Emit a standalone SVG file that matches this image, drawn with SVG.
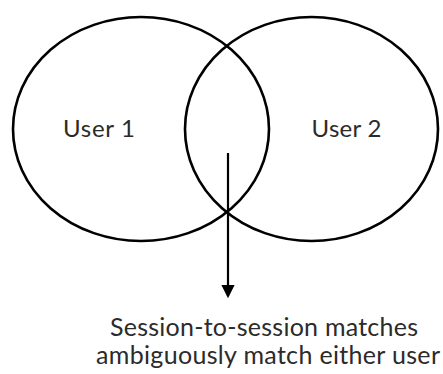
<svg xmlns="http://www.w3.org/2000/svg" width="443" height="374" viewBox="0 0 443 374">
<defs>
<style>
.set{fill:none;stroke:#000;stroke-width:2.6}
.lbl{font-family:Lato,"Open Sans","Liberation Sans",sans-serif;fill:#2b2b2b;text-anchor:middle}
.conn{stroke:#000;stroke-width:2.2;fill:none}
</style>
<marker id="arr" markerWidth="6" markerHeight="6" refX="5" refY="3" orient="auto" markerUnits="strokeWidth">
<path d="M0,0 L6,3 L0,6 z" fill="#000"/>
</marker>
</defs>
<rect width="443" height="374" fill="#fff"/>
<g id="user1">
<ellipse class="set" cx="141" cy="129" rx="128" ry="112"/>
<text class="lbl" x="99" y="137" font-size="24" textLength="72">User 1</text>
</g>
<g id="user2">
<ellipse class="set" cx="311.5" cy="129" rx="126.5" ry="112"/>
<text class="lbl" x="346.5" y="137" font-size="24" textLength="70">User 2</text>
</g>
<g id="connectors">
<line class="conn" x1="228" y1="153" x2="228" y2="296" marker-end="url(#arr)"/>
</g>
<g id="caption">
<text class="lbl" x="264" y="336" font-size="25" textLength="308">Session-to-session matches</text>
<text class="lbl" x="268" y="364" font-size="25" textLength="344">ambiguously match either user</text>
</g>
</svg>
